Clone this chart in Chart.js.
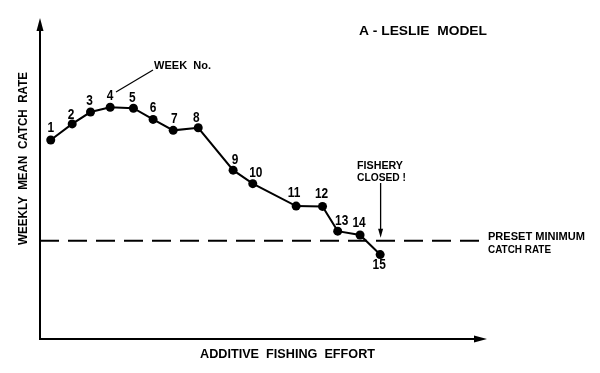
<!DOCTYPE html>
<html>
<head>
<meta charset="utf-8">
<script src="https://cdn.jsdelivr.net/npm/chart.js@4"></script>
<style>
  body { margin: 0; background: #fff; }
  canvas { display: block; }
</style>
</head>
<body>
<canvas id="chart" width="600" height="373"></canvas>
<script>
// week number, cumulative (additive) fishing effort, weekly mean catch rate
// no units on the original, both axes read as 0..100 of the drawn axis length
var weeks = ['1', '2', '3', '4', '5', '6', '7', '8', '9', '10', '11', '12', '13', '14', '15'];
var effort = [2.4, 7.2, 11.3, 15.7, 20.9, 25.3, 29.8, 35.4, 43.2, 47.6, 57.3, 63.2, 66.6, 71.6, 76.1];
var catchRate = [62.0, 67.0, 70.7, 72.2, 71.9, 68.4, 65.0, 65.8, 52.6, 48.4, 41.4, 41.3, 33.6, 32.4, 26.3];
var presetMinimum = 30.6;
var closedAt = 76.2;

// where each week number sits relative to its dot
var labelOffset = [[0,-12],[-1,-9],[-1,-11],[0,-11],[-1,-10],[0,-11],[1,-11],[-2,-10],
                   [2,-10],[3,-10],[-2,-13],[-1,-12],[4,-10],[-1,-12],[-1,11]];

var FONT = '"Liberation Sans", Arial, sans-serif';

// draw text squeezed/stretched to a given width (lettering on the original is hand drawn)
function fitText(ctx, text, x, y, w) {
    var m = ctx.measureText(text).width;
    ctx.save();
    ctx.translate(x, y);
    ctx.scale(w / m, 1);
    ctx.fillText(text, 0, 0);
    ctx.restore();
}

function arrowHead(ctx, x, y, dir, len, half) {
    // dir: 'up', 'right', 'down'
    ctx.beginPath();
    if (dir == 'up') {
        ctx.moveTo(x, y); ctx.lineTo(x - half, y + len); ctx.lineTo(x + half, y + len);
    } else if (dir == 'right') {
        ctx.moveTo(x, y); ctx.lineTo(x - len, y - half); ctx.lineTo(x - len, y + half);
    } else {
        ctx.moveTo(x, y); ctx.lineTo(x - half, y - len); ctx.lineTo(x + half, y - len);
    }
    ctx.closePath();
    ctx.fill();
}

var sketch = {
    id: 'sketch',
    beforeDatasetsDraw: function(chart) {
        var ctx = chart.ctx;
        var xs = chart.scales.x, ys = chart.scales.y;
        var a = chart.chartArea;
        ctx.save();
        ctx.strokeStyle = '#000';
        ctx.fillStyle = '#000';

        // axes with arrows
        ctx.lineWidth = 2;
        ctx.beginPath();
        ctx.moveTo(a.left, a.top + 8);
        ctx.lineTo(a.left, a.bottom);
        ctx.lineTo(a.right - 8, a.bottom);
        ctx.stroke();
        arrowHead(ctx, a.left, a.top, 'up', 13, 3.5);
        arrowHead(ctx, a.right, a.bottom, 'right', 13, 3.5);

        // preset minimum catch rate
        var ym = ys.getPixelForValue(presetMinimum);
        ctx.setLineDash([19, 9]);
        ctx.beginPath();
        ctx.moveTo(a.left, ym);
        ctx.lineTo(xs.getPixelForValue(99), ym);
        ctx.stroke();
        ctx.setLineDash([]);

        // fishery closed arrow
        var xc = xs.getPixelForValue(closedAt);
        ctx.lineWidth = 1.3;
        ctx.beginPath();
        ctx.moveTo(xc, 183);
        ctx.lineTo(xc, ym - 10);
        ctx.stroke();
        arrowHead(ctx, xc, ym - 3, 'down', 9, 2.5);

        // pointer to week 4
        ctx.lineWidth = 1.2;
        ctx.beginPath();
        ctx.moveTo(153, 70);
        ctx.lineTo(116, 92);
        ctx.stroke();

        // texts
        ctx.textBaseline = 'middle';
        ctx.textAlign = 'left';
        ctx.font = 'bold 13px ' + FONT;
        fitText(ctx, 'A - LESLIE  MODEL', 359, 31.5, 128);
        ctx.font = 'bold 11px ' + FONT;
        fitText(ctx, 'WEEK  No.', 154, 66, 57);
        fitText(ctx, 'FISHERY', 357, 166, 46);
        fitText(ctx, 'CLOSED !', 357, 177.5, 49);
        fitText(ctx, 'PRESET MINIMUM', 488, 237, 97);
        fitText(ctx, 'CATCH RATE', 488, 249.5, 63);
        ctx.font = 'bold 13px ' + FONT;
        fitText(ctx, 'ADDITIVE  FISHING  EFFORT', 200, 354.5, 175);

        ctx.save();
        ctx.translate(23.5, 158.5);
        ctx.rotate(-Math.PI / 2);
        ctx.font = 'bold 13px ' + FONT;
        fitText(ctx, 'WEEKLY  MEAN  CATCH  RATE', -86.5, 0, 173);
        ctx.restore();

        ctx.restore();
    },
    afterDatasetsDraw: function(chart) {
        var ctx = chart.ctx;
        var meta = chart.getDatasetMeta(0);
        ctx.save();
        ctx.fillStyle = '#000';
        ctx.font = 'bold 14px ' + FONT;
        ctx.textAlign = 'left';
        ctx.textBaseline = 'middle';
        meta.data.forEach(function(pt, i) {
            var t = weeks[i];
            var w = ctx.measureText(t).width * 0.85;
            fitText(ctx, t, pt.x + labelOffset[i][0] - w / 2, pt.y + labelOffset[i][1], w);
        });
        ctx.restore();
    }
};

var points = effort.map(function(e, i) { return {x: e, y: catchRate[i]}; });

new Chart(document.getElementById('chart'), {
    type: 'scatter',
    data: {
        datasets: [{
            data: points,
            showLine: true,
            borderColor: '#000',
            borderWidth: 2,
            backgroundColor: '#000',
            pointRadius: 4.5,
            pointBorderWidth: 0,
            clip: false
        }]
    },
    options: {
        responsive: false,
        animation: false,
        layout: { padding: { left: 40, right: 113, top: 18, bottom: 34 } },
        plugins: { legend: { display: false }, tooltip: { enabled: false } },
        scales: {
            x: { type: 'linear', min: 0, max: 100, display: false },
            y: { type: 'linear', min: 0, max: 100, display: false }
        }
    },
    plugins: [sketch]
});
</script>
</body>
</html>
